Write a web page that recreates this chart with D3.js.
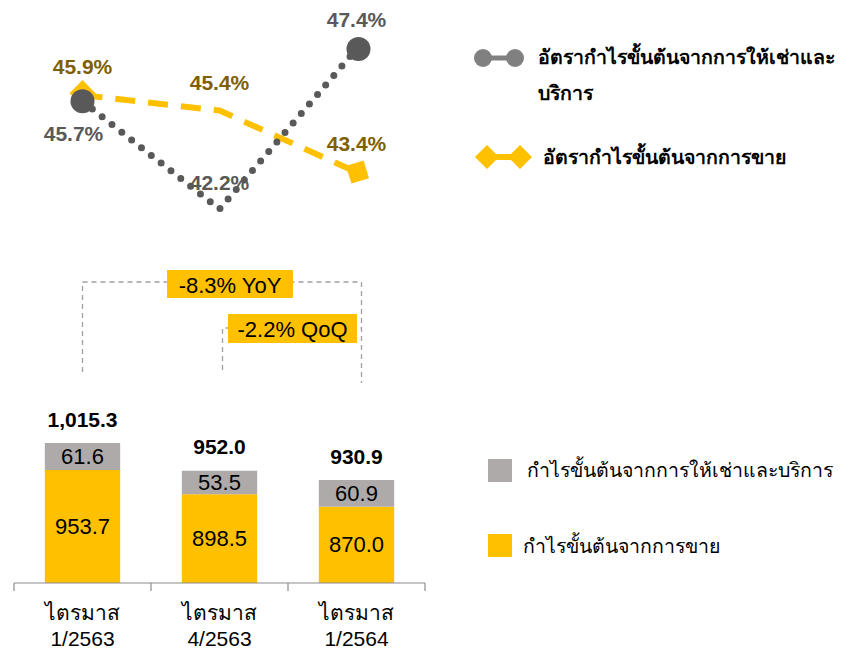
<!DOCTYPE html>
<html><head><meta charset="utf-8">
<script src="https://cdn.jsdelivr.net/npm/d3@7"></script>
<style>body{margin:0;background:#fff}</style>
</head><body>
<svg id="c" width="850" height="650"></svg>
<script>
const categories = ["ไตรมาส 1/2563", "ไตรมาส 4/2563", "ไตรมาส 1/2564"];
const salesProfit = [953.7, 898.5, 870.0];
const rentalProfit = [61.6, 53.5, 60.9];
const totals = [1015.3, 952.0, 930.9];
const rentalMargin = [45.7, 42.2, 47.4];
const salesMargin = [45.9, 45.4, 43.4];
const legendLine = ["อัตรากำไรขั้นต้นจากการให้เช่าและ", "บริการ", "อัตรากำไรขั้นต้นจากการขาย"];
const legendBar = ["กำไรขั้นต้นจากการให้เช่าและบริการ", "กำไรขั้นต้นจากการขาย"];
const changes = ["-8.3% YoY", "-2.2% QoQ"];

const FONT = "Tahoma, 'Liberation Sans', Arial, 'Noto Sans', sans-serif";
const GOLD = "#FFC000", DARK = "#595959", GRAY = "#AEAAAA", BROWN = "#7F6000";
const svg = d3.select("#c").style("font-family", FONT);

const x = d3.scaleBand().domain(categories).range([14, 425]).paddingInner(0.45).paddingOuter(0.225);
const cx = c => x(c) + x.bandwidth() / 2;
const yb = d3.scaleLinear().domain([696, 1015.3]).range([583, 443]);
const yl = d3.scaleLinear().domain([42.2, 47.4]).range([209, 49]);

// --- bars
const g = svg.append("g");
categories.forEach((c, i) => {
  g.append("rect").attr("x", x(c)).attr("width", x.bandwidth())
    .attr("y", yb(salesProfit[i])).attr("height", yb.range()[0] - yb(salesProfit[i])).attr("fill", GOLD);
  g.append("rect").attr("x", x(c)).attr("width", x.bandwidth())
    .attr("y", yb(totals[i])).attr("height", yb(salesProfit[i]) - yb(totals[i])).attr("fill", GRAY);
  g.append("text").attr("x", cx(c)).attr("y", (yb(salesProfit[i]) + yb.range()[0]) / 2)
    .attr("text-anchor", "middle").attr("dominant-baseline", "central").attr("font-size", 22)
    .text(salesProfit[i].toFixed(1));
  g.append("text").attr("x", cx(c)).attr("y", (yb(salesProfit[i]) + yb(totals[i])) / 2)
    .attr("text-anchor", "middle").attr("dominant-baseline", "central").attr("font-size", 22)
    .text(rentalProfit[i].toFixed(1));
  g.append("text").attr("x", cx(c)).attr("y", yb(totals[i]) - 24)
    .attr("text-anchor", "middle").attr("dominant-baseline", "central").attr("font-size", 21)
    .attr("font-weight", "bold").text(d3.format(",.1f")(totals[i]));
});

// axis
const ax = svg.append("g").attr("transform", "translate(0,583)")
  .call(d3.axisBottom(x).tickSize(0).tickFormat(""));
ax.select(".domain").remove();
ax.append("line").attr("x1", 14).attr("x2", 425).attr("stroke", "#8C8C8C").attr("stroke-width", 1.2);
const edges = categories.map(c => x(c) - x.step() * x.paddingInner() / 2).concat([x.range()[1]]);
edges.forEach(e => ax.append("line").attr("x1", e).attr("x2", e).attr("y1", 0).attr("y2", 8)
  .attr("stroke", "#8C8C8C").attr("stroke-width", 1.2));
categories.forEach(c => {
  const parts = c.split(" ");
  const t = ax.append("text").attr("x", cx(c)).attr("text-anchor", "middle").attr("font-size", 21).attr("fill", "#000");
  t.append("tspan").attr("x", cx(c)).attr("y", 37).text(parts[0]);
  t.append("tspan").attr("x", cx(c)).attr("y", 63).text(parts[1]);
});

// --- brackets
const br = svg.append("g").attr("fill", "none").attr("stroke", "#A0A0A0").attr("stroke-width", 1.3).attr("stroke-dasharray", "5,4");
const x0 = cx(categories[0]), x1 = cx(categories[1]) + 3, x2 = cx(categories[2]) + 5;
br.append("path").attr("d", `M${x0},372V282H${x2}V383`);
br.append("path").attr("d", `M${x1},370V328H${x2}`);
const boxes = [{t: changes[0], x: 167, y: 270, w: 126, h: 28}, {t: changes[1], x: 228, y: 314, w: 129, h: 29}];
boxes.forEach(b => {
  svg.append("rect").attr("x", b.x).attr("y", b.y).attr("width", b.w).attr("height", b.h).attr("fill", GOLD);
  svg.append("text").attr("x", b.x + b.w / 2).attr("y", b.y + b.h / 2 + 1).attr("text-anchor", "middle")
    .attr("dominant-baseline", "central").attr("font-size", 22).text(b.t);
});

// --- lines
const lineGen = d3.line().x((d, i) => cx(categories[i])).y(d => yl(d));
svg.append("path").datum(salesMargin).attr("d", lineGen).attr("fill", "none").attr("stroke", GOLD)
  .attr("stroke-width", 6).attr("stroke-dasharray", "20,13");
const sq = d3.symbol().type(d3.symbolSquare).size(340);
svg.append("path").attr("d", sq()).attr("fill", GOLD)
  .attr("transform", `translate(${cx(categories[0])},${yl(salesMargin[0]) - 2}) rotate(45)`);
svg.append("path").attr("d", sq()).attr("fill", GOLD)
  .attr("transform", `translate(${cx(categories[2]) + 1},${yl(salesMargin[2])}) rotate(-17)`);

svg.append("path").datum(rentalMargin).attr("d", lineGen).attr("fill", "none").attr("stroke", DARK)
  .attr("stroke-width", 7).attr("stroke-linecap", "round").attr("stroke-dasharray", "0,12.5");
[0, 2].forEach(i => svg.append("circle").attr("cx", cx(categories[i]) + (i ? 2 : 0)).attr("cy", yl(rentalMargin[i]))
  .attr("r", 12).attr("fill", DARK));

const lblS = [[0, -29], [0, -28], [0, -29]];
salesMargin.forEach((v, i) => svg.append("text").attr("x", cx(categories[i]) + lblS[i][0]).attr("y", yl(v) + lblS[i][1])
  .attr("text-anchor", "middle").attr("dominant-baseline", "central").attr("font-size", 21).attr("font-weight", "bold")
  .attr("fill", BROWN).text(v.toFixed(1) + "%"));
const lblR = [[-9, 32], [0, -27], [0, -30]];
rentalMargin.forEach((v, i) => svg.append("text").attr("x", cx(categories[i]) + lblR[i][0]).attr("y", yl(v) + lblR[i][1])
  .attr("text-anchor", "middle").attr("dominant-baseline", "central").attr("font-size", 21).attr("font-weight", "bold")
  .attr("fill", DARK).text(v.toFixed(1) + "%"));

// --- legends
const lg = svg.append("g");
lg.append("line").attr("x1", 483).attr("x2", 515).attr("y1", 58).attr("y2", 58).attr("stroke", "#808080").attr("stroke-width", 5);
[483, 515].forEach(px => lg.append("circle").attr("cx", px).attr("cy", 58).attr("r", 9).attr("fill", "#808080"));
lg.append("text").attr("x", 538).attr("y", 57).attr("dominant-baseline", "central").attr("font-size", 19.5).attr("font-weight", "bold").text(legendLine[0]);
lg.append("text").attr("x", 538).attr("y", 93).attr("dominant-baseline", "central").attr("font-size", 19.5).attr("font-weight", "bold").text(legendLine[1]);
lg.append("line").attr("x1", 487).attr("x2", 520).attr("y1", 157).attr("y2", 157).attr("stroke", GOLD).attr("stroke-width", 6);
const dm = d3.symbol().type(d3.symbolSquare).size(290);
[487, 520].forEach(px => lg.append("path").attr("d", dm()).attr("fill", GOLD).attr("transform", `translate(${px},157) rotate(45)`));
lg.append("text").attr("x", 543).attr("y", 157).attr("dominant-baseline", "central").attr("font-size", 19.5).attr("font-weight", "bold").text(legendLine[2]);

lg.append("rect").attr("x", 488).attr("y", 459).attr("width", 24).attr("height", 23).attr("fill", GRAY);
lg.append("text").attr("x", 527).attr("y", 470).attr("dominant-baseline", "central").attr("font-size", 19.5).text(legendBar[0]);
lg.append("rect").attr("x", 488).attr("y", 534).attr("width", 24).attr("height", 23).attr("fill", GOLD);
lg.append("text").attr("x", 523).attr("y", 546).attr("dominant-baseline", "central").attr("font-size", 19.5).text(legendBar[1]);
</script>
</body></html>
